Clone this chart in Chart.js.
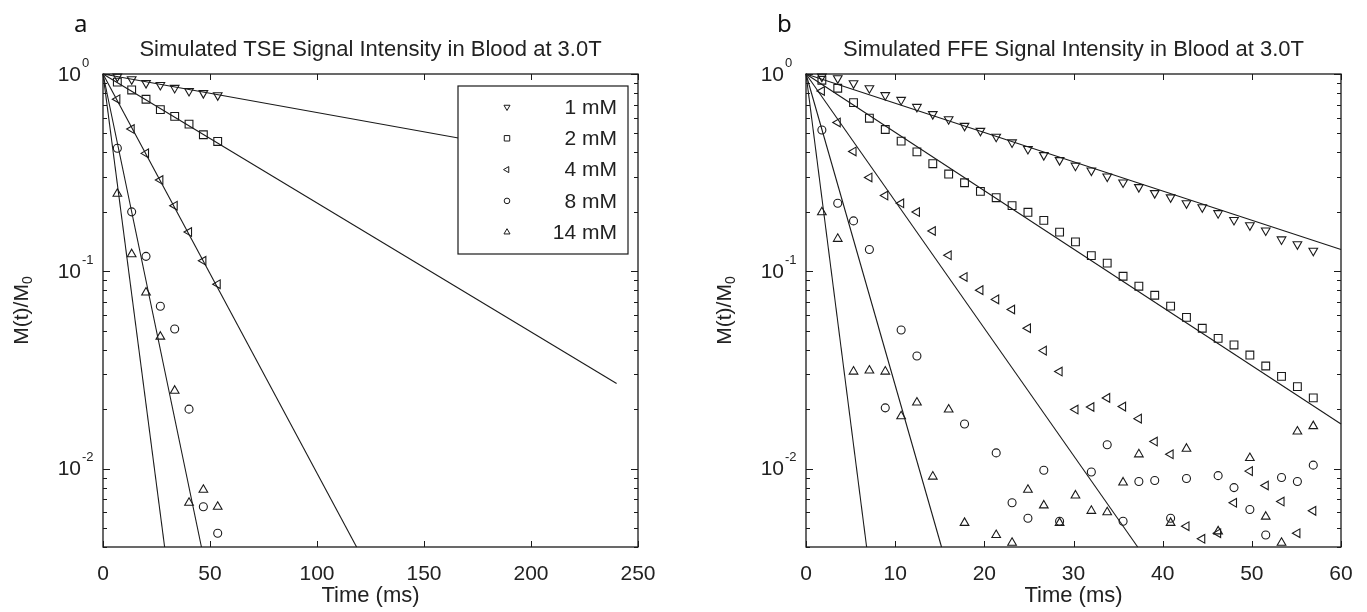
<!DOCTYPE html>
<html lang="en">
<head>
<meta charset="UTF-8">
<title>Simulated Signal Intensity in Blood at 3.0T</title>
<script src="https://cdn.jsdelivr.net/npm/chart.js"></script>
<style>
    * { margin: 0; padding: 0; box-sizing: border-box; }
    body { background: #fff; width: 1367px; height: 612px; overflow: hidden; position: relative; }
    canvas { position: absolute; top: 0; }
    #tseChart { left: 0; }
    #ffeChart { left: 690px; }
</style>
</head>
<body>
<canvas id="tseChart" width="690" height="612"></canvas>
<canvas id="ffeChart" width="677" height="612"></canvas>
<script>
// Gd concentrations shown in both panels
const concLabels = ['1 mM', '2 mM', '4 mM', '8 mM', '14 mM'];

// (a) TSE: echo times (ms) and simulated M(t)/M0
const tseTimes = [6.7, 13.4, 20.1, 26.8, 33.5, 40.2, 46.9, 53.6];
const tse1mM  = [0.97, 0.94, 0.90, 0.88, 0.85, 0.82, 0.80, 0.78];
const tse2mM  = [0.91, 0.83, 0.745, 0.66, 0.61, 0.557, 0.492, 0.455];
const tse4mM  = [0.745, 0.526, 0.396, 0.29, 0.215, 0.158, 0.113, 0.086];
const tse8mM  = [0.42, 0.20, 0.119, 0.0665, 0.051, 0.020, 0.0064, 0.0047];
const tse14mM = [0.247, 0.122, 0.078, 0.0466, 0.0248, 0.0067, 0.0078, 0.0064];
// mono-exponential reference lines, all starting at (0, 1)
const tseFitEndTime  = [240, 240, 118.5, 46, 28.8];
const tseFitEndValue = [0.34, 0.027, 0.004, 0.004, 0.004];

// (b) FFE: echo times (ms) and simulated M(t)/M0 (null = below axis)
const ffeTimes = [1.78, 3.56, 5.33, 7.11, 8.89, 10.67, 12.44, 14.22, 16.0, 17.78, 19.56, 21.33,
    23.11, 24.89, 26.67, 28.44, 30.22, 32.0, 33.78, 35.56, 37.33, 39.11, 40.89, 42.67,
    44.44, 46.22, 48.0, 49.78, 51.56, 53.33, 55.11, 56.89];
const ffe1mM = [0.97, 0.951, 0.897, 0.847, 0.781, 0.739, 0.681, 0.626, 0.590, 0.546, 0.515, 0.481,
    0.450, 0.417, 0.388, 0.366, 0.343, 0.324, 0.302, 0.282, 0.267, 0.249, 0.237, 0.221,
    0.211, 0.197, 0.182, 0.171, 0.161, 0.145, 0.137, 0.127];
const ffe2mM = [0.93, 0.847, 0.716, 0.597, 0.523, 0.457, 0.403, 0.351, 0.311, 0.281, 0.254, 0.236,
    0.215, 0.199, 0.181, 0.158, 0.141, 0.120, 0.110, 0.0943, 0.0840, 0.0756, 0.0666, 0.0584,
    0.0514, 0.0457, 0.0423, 0.0376, 0.0331, 0.0293, 0.0260, 0.0228];
const ffe4mM = [0.82, 0.568, 0.405, 0.299, 0.242, 0.221, 0.1995, 0.160, 0.1205, 0.0936, 0.0802, 0.0720,
    0.0640, 0.0514, 0.0396, 0.0310, 0.0199, 0.0205, 0.0228, 0.0206, 0.0179, 0.0137, 0.0118, 0.0051,
    0.0044, 0.0047, 0.0067, 0.0097, 0.0082, 0.0068, 0.0047, 0.0061];
const ffe8mM = [0.52, 0.221, 0.18, 0.129, 0.0203, 0.0504, 0.0372, null, null, 0.0168, null, 0.0120,
    0.0067, 0.0056, 0.0098, 0.0054, null, 0.0096, 0.0132, 0.0054, 0.0086, 0.0087, 0.0056, 0.0089,
    null, 0.0092, 0.0080, 0.0062, 0.0046, 0.0090, 0.0086, 0.0104];
const ffe14mM = [0.199, 0.146, 0.031, 0.0314, 0.031, 0.0184, 0.0216, 0.0091, 0.0199, 0.0053, null, 0.0046,
    0.0042, 0.0078, 0.0065, 0.0053, 0.0073, 0.0061, 0.0060, 0.0085, 0.0118, null, 0.0053, 0.0126,
    null, 0.0048, null, 0.0113, 0.0057, 0.0042, 0.0154, 0.0164];
const ffeFitEndTime  = [60, 60, 37.2, 15.2, 6.8];
const ffeFitEndValue = [0.129, 0.0168, 0.004, 0.004, 0.004];

// axis ticks
const tseXTicks = [0, 50, 100, 150, 200, 250];
const ffeXTicks = [0, 10, 20, 30, 40, 50, 60];
const yMajorTicks = [1, 0.1, 0.01];
const yMajorExp = ['0', '-1', '-2'];

// marker per concentration: v, square, <, o, ^
const markerStyle = ['triangle', 'rect', 'triangle', 'circle', 'triangle'];
const markerRot = [180, 0, 270, 0, 0];
const markerRad = [5, 5.5, 5, 4, 5];

const FONT = "'Liberation Sans', Arial, Helvetica, sans-serif";
const INK = '#1a1a1a';

function drawMarker(ctx, style, rot, r, x, y) {
    ctx.beginPath();
    if (style === 'circle') {
        ctx.arc(x, y, r, 0, Math.PI * 2);
    } else if (style === 'rect') {
        const h = r * Math.SQRT1_2;
        ctx.rect(x - h, y - h, 2 * h, 2 * h);
    } else {
        let ang = rot * Math.PI / 180;
        for (let k = 0; k < 3; k++) {
            const px = x + Math.sin(ang) * r, py = y - Math.cos(ang) * r;
            if (k === 0) ctx.moveTo(px, py); else ctx.lineTo(px, py);
            ang += 2 * Math.PI / 3;
        }
        ctx.closePath();
    }
    ctx.stroke();
}

// frame, inward ticks, log labels, titles and the boxed legend
const axesDecor = {
    id: 'axesDecor',
    afterDatasetsDraw(chart, args, opts) {
        if (!opts.legend) return;
        const { ctx, chartArea: a } = chart;
        const bx = a.left + 355, by = a.top + 12, bw = 170, bh = 168;
        ctx.save();
        ctx.fillStyle = '#fff';
        ctx.fillRect(bx, by, bw, bh);
        ctx.strokeStyle = INK;
        ctx.lineWidth = 1.2;
        ctx.strokeRect(bx, by, bw, bh);
        ctx.font = '21px ' + FONT;
        ctx.textAlign = 'right';
        ctx.textBaseline = 'middle';
        ctx.fillStyle = '#222';
        ctx.lineWidth = 1;
        concLabels.forEach((lab, i) => {
            const ry = by + 21 + i * 31.3;
            drawMarker(ctx, markerStyle[i], markerRot[i], markerRad[i] * 0.7, bx + 49, ry);
            ctx.fillText(lab, bx + 159, ry + 1);
        });
        ctx.restore();
    },
    afterDraw(chart, args, opts) {
        const { ctx, chartArea: a, scales: { x, y } } = chart;
        ctx.save();
        ctx.strokeStyle = INK;
        ctx.lineWidth = 1.3;
        ctx.strokeRect(a.left, a.top, a.right - a.left, a.bottom - a.top);

        ctx.lineWidth = 1;
        ctx.beginPath();
        x.ticks.forEach(t => {
            const px = Math.round(x.getPixelForValue(t.value)) + 0.5;
            ctx.moveTo(px, a.bottom); ctx.lineTo(px, a.bottom - 6);
            ctx.moveTo(px, a.top); ctx.lineTo(px, a.top + 6);
        });
        [0.001, 0.01, 0.1].forEach(dec => {
            for (let m = 2; m <= 9; m++) {
                const v = dec * m;
                if (v < y.min || v > y.max) continue;
                const py = Math.round(y.getPixelForValue(v)) + 0.5;
                ctx.moveTo(a.left, py); ctx.lineTo(a.left + 4, py);
                ctx.moveTo(a.right, py); ctx.lineTo(a.right - 4, py);
            }
        });
        yMajorTicks.forEach(v => {
            const py = Math.round(y.getPixelForValue(v)) + 0.5;
            ctx.moveTo(a.left, py); ctx.lineTo(a.left + 7, py);
            ctx.moveTo(a.right, py); ctx.lineTo(a.right - 7, py);
        });
        ctx.stroke();

        // 10^n labels
        ctx.fillStyle = '#222';
        ctx.textBaseline = 'middle';
        yMajorTicks.forEach((v, i) => {
            const py = y.getPixelForValue(v);
            ctx.font = '21px ' + FONT;
            ctx.textAlign = 'right';
            ctx.fillText('10', a.left - 22, py + 1);
            ctx.font = '13px ' + FONT;
            ctx.textAlign = 'left';
            ctx.fillText(yMajorExp[i], a.left - 21, py - 11);
        });

        // y-axis title M(t)/M0
        ctx.save();
        ctx.translate(a.left - 81, (a.top + a.bottom) / 2);
        ctx.rotate(-Math.PI / 2);
        ctx.font = '21px ' + FONT;
        const mainW = ctx.measureText('M(t)/M').width;
        ctx.font = '14px ' + FONT;
        const subW = ctx.measureText('0').width;
        const x0 = -(mainW + subW) / 2;
        ctx.textAlign = 'left';
        ctx.font = '21px ' + FONT;
        ctx.fillText('M(t)/M', x0, 0);
        ctx.font = '14px ' + FONT;
        ctx.fillText('0', x0 + mainW, 6);
        ctx.restore();

        // panel title and letter
        ctx.font = '22px ' + FONT;
        ctx.textAlign = 'center';
        ctx.fillText(opts.title, (a.left + a.right) / 2, 50);
        ctx.font = "24px 'Noto Sans', 'Open Sans', sans-serif";
        ctx.textAlign = 'left';
        ctx.textBaseline = 'alphabetic';
        ctx.fillStyle = '#111';
        ctx.fillText(opts.letter, a.left - 29, 32);
        ctx.restore();
    }
};

function makePanel(id, p) {
    const datasets = [];
    p.fitEndTime.forEach((t, i) => {
        datasets.push({
            type: 'line',
            data: [{ x: 0, y: 1 }, { x: t, y: p.fitEndValue[i] }],
            borderColor: INK,
            borderWidth: 1.1,
            pointRadius: 0,
            fill: false,
            tension: 0,
            clip: false
        });
    });
    p.series.forEach((vals, i) => {
        const pts = [];
        vals.forEach((v, j) => { if (v !== null) pts.push({ x: p.times[j], y: v }); });
        datasets.push({
            type: 'scatter',
            label: concLabels[i],
            data: pts,
            pointStyle: markerStyle[i],
            pointRotation: markerRot[i],
            pointRadius: markerRad[i],
            pointBorderColor: INK,
            pointBackgroundColor: 'rgba(0,0,0,0)',
            pointBorderWidth: 1.1,
            clip: false
        });
    });

    return new Chart(document.getElementById(id), {
        data: { datasets: datasets },
        options: {
            responsive: false,
            animation: false,
            events: [],
            layout: { padding: { top: 74, right: p.rightPad, bottom: 0, left: 0 } },
            plugins: {
                legend: { display: false },
                tooltip: { enabled: false },
                axesDecor: { title: p.title, letter: p.letter, legend: p.legend }
            },
            scales: {
                x: {
                    type: 'linear',
                    min: p.xTicks[0],
                    max: p.xTicks[p.xTicks.length - 1],
                    afterBuildTicks: s => { s.ticks = p.xTicks.map(v => ({ value: v })); },
                    ticks: { font: { family: FONT, size: 21 }, color: '#222', padding: 7, maxRotation: 0, autoSkip: false },
                    grid: { display: false },
                    border: { display: false },
                    title: {
                        display: true, text: 'Time (ms)', color: '#222',
                        font: { family: FONT, size: 22 }, padding: { top: 0, bottom: 3 }
                    },
                    afterFit: s => { s.height = 65; }
                },
                y: {
                    type: 'logarithmic',
                    min: 0.004,
                    max: 1,
                    ticks: { display: false },
                    grid: { display: false },
                    border: { display: false },
                    afterFit: s => { s.width = p.leftW; }
                }
            }
        },
        plugins: [axesDecor]
    });
}

makePanel('tseChart', {
    times: tseTimes,
    series: [tse1mM, tse2mM, tse4mM, tse8mM, tse14mM],
    fitEndTime: tseFitEndTime,
    fitEndValue: tseFitEndValue,
    xTicks: tseXTicks,
    leftW: 103,
    rightPad: 52,
    title: 'Simulated TSE Signal Intensity in Blood at 3.0T',
    letter: 'a',
    legend: true
});

makePanel('ffeChart', {
    times: ffeTimes,
    series: [ffe1mM, ffe2mM, ffe4mM, ffe8mM, ffe14mM],
    fitEndTime: ffeFitEndTime,
    fitEndValue: ffeFitEndValue,
    xTicks: ffeXTicks,
    leftW: 116,
    rightPad: 26,
    title: 'Simulated FFE Signal Intensity in Blood at 3.0T',
    letter: 'b',
    legend: false
});
</script>
</body>
</html>
